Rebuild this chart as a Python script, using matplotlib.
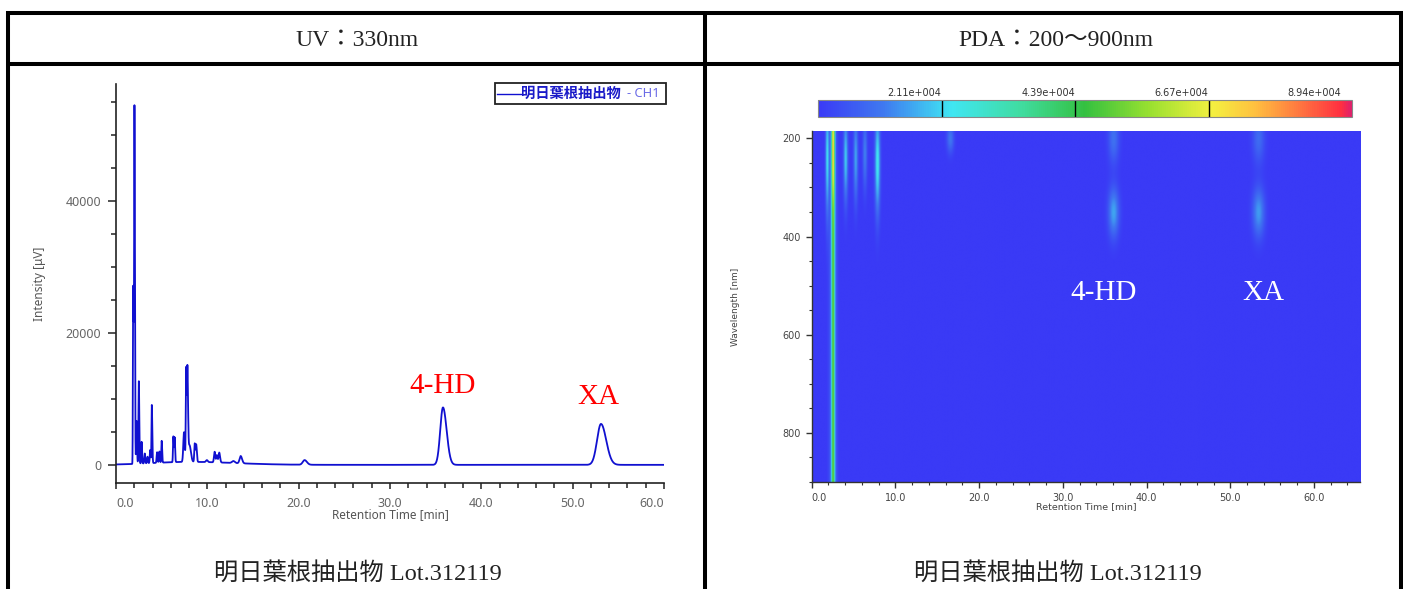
import numpy as np
import matplotlib
matplotlib.use("Agg")
import matplotlib.pyplot as plt
from matplotlib.colors import LinearSegmentedColormap
from matplotlib.lines import Line2D
from matplotlib.patches import Rectangle
from matplotlib.ticker import MultipleLocator, NullLocator

W, H, DPI = 1403, 589, 100

# ---- UV 330 nm chromatogram: peak table ----
# retention time [min], height [uV], front / tail widths [min]
uv_peak_times = [1.88, 2.02, 2.25, 2.50, 2.80, 3.15, 3.45, 3.75, 3.92, 4.50,
                 4.75, 5.00, 6.28, 6.42, 7.45, 7.68, 7.82, 8.05, 8.62, 8.78,
                 9.95, 10.80, 11.05, 11.30, 12.85, 13.65, 20.65, 35.80, 53.10]
uv_peak_heights = [27000, 48500, 6500, 12500, 3300, 1500, 1000, 2000, 8800, 1600,
                   1700, 3300, 3900, 3700, 4500, 14300, 13500, 2500, 2800, 2600,
                   300, 1600, 1100, 1500, 300, 1100, 700, 8700, 6200]
uv_peak_front = [0.03, 0.03, 0.04, 0.04, 0.04, 0.05, 0.05, 0.05, 0.035, 0.05,
                 0.05, 0.04, 0.04, 0.04, 0.08, 0.04, 0.04, 0.10, 0.05, 0.05,
                 0.10, 0.07, 0.07, 0.07, 0.15, 0.12, 0.20, 0.30, 0.43]
uv_peak_tail = [0.08, 0.05, 0.05, 0.05, 0.05, 0.05, 0.05, 0.05, 0.05, 0.05,
                0.05, 0.05, 0.05, 0.05, 0.08, 0.06, 0.07, 0.15, 0.06, 0.07,
                0.10, 0.07, 0.07, 0.09, 0.15, 0.15, 0.25, 0.40, 0.57]
# slow baseline rise in the early part of the run
uv_baseline_center, uv_baseline_height = 8.0, 450
uv_baseline_front, uv_baseline_tail = 4.0, 5.0

uv_xticks = [0, 10, 20, 30, 40, 50, 60]
uv_yticks = [0, 20000, 40000]
peak_names = ["4-HD", "XA"]

# ---- PDA contour: absorption bands ----
pda_band_times = [1.8, 2.5, 2.5, 2.5, 4.0, 5.2, 6.3, 7.8, 16.5, 36.0, 36.0, 53.3, 53.3]
pda_band_widths = [0.15, 0.13, 0.3, 0.14, 0.18, 0.18, 0.18, 0.22, 0.3, 0.45, 0.45, 0.5, 0.5]
pda_band_levels = [2.2e4, 4.0e4, 1.2e4, 2.2e4, 2.0e4, 1.6e4, 1.2e4, 2.4e4, 1.1e4,
                   1.6e4, 1.0e4, 1.5e4, 0.9e4]
pda_band_wl_center = [240, 550, 550, 230, 240, 240, 230, 250, 200, 350, 200, 350, 200]
pda_band_wl_spread = [80, 1e5, 1e5, 70, 60, 60, 50, 70, 20, 35, 35, 35, 35]
pda_colorbar_ticks = [2.11e4, 4.39e4, 6.67e4, 8.94e4]
pda_colorbar_labels = ["2.11e+004", "4.39e+004", "6.67e+004", "8.94e+004"]
pda_vmax = 9.12e4
pda_time_max = 65.5
pda_wl_range = (185, 900)

sample_name = "明日葉根抽出物"
caption = "明日葉根抽出物 Lot.312119"

SERIF_JP = ["Liberation Serif", "Noto Sans CJK JP"]
SANS = ["Noto Sans", "DejaVu Sans"]


def px_x(x):
    return x / W


def px_y(y):
    return 1 - y / H


def skewed_peak(t, t0, h, sf, st):
    s = np.where(t < t0, sf, st)
    return h * np.exp(-(t - t0) ** 2 / (2 * s ** 2))


fig = plt.figure(figsize=(W / DPI, H / DPI), dpi=DPI)
fig.patch.set_facecolor("white")

# ---- table frame ----
lw_frame = 2.9
for (x0, y0, x1, y1) in [(6, 13, 1403, 13), (6, 64, 1403, 64),
                         (8, 11, 8, 589), (705, 11, 705, 589), (1401, 11, 1401, 589)]:
    fig.add_artist(Line2D([px_x(x0), px_x(x1)], [px_y(y0), px_y(y1)],
                          transform=fig.transFigure, color="black", lw=lw_frame,
                          solid_capstyle="butt"))

fig.text(px_x(357), px_y(40), "UV：330nm", family=SERIF_JP, fontsize=17,
         ha="center", va="center", color="#222222")
fig.text(px_x(1056), px_y(40), "PDA：200〜900nm", family=SERIF_JP, fontsize=17,
         ha="center", va="center", color="#222222")
fig.text(px_x(358), px_y(573), caption, family=SERIF_JP, fontsize=17.5,
         ha="center", va="center", color="#222222")
fig.text(px_x(1058), px_y(573), caption, family=SERIF_JP, fontsize=17.5,
         ha="center", va="center", color="#222222")

# ---- UV chromatogram ----
t = np.arange(0, 60.0001, 0.005)
signal = skewed_peak(t, uv_baseline_center, uv_baseline_height,
                     uv_baseline_front, uv_baseline_tail)
for t0, h, sf, st in zip(uv_peak_times, uv_peak_heights, uv_peak_front, uv_peak_tail):
    signal = signal + skewed_peak(t, t0, h, sf, st)

ax1 = fig.add_axes([px_x(116), px_y(483), (664 - 116) / W, (483 - 84) / H])
ax1.plot(t, signal, color="#1010d0", lw=1.3)
ax1.set_xlim(0, 60)
ax1.set_ylim(-2750, 57700)
for s in ["top", "right"]:
    ax1.spines[s].set_visible(False)
for s in ["left", "bottom"]:
    ax1.spines[s].set_color("#222222")
    ax1.spines[s].set_linewidth(1.2)
ax1.set_xticks(uv_xticks)
ax1.xaxis.set_minor_locator(MultipleLocator(2))
ax1.set_yticks(uv_yticks)
ax1.yaxis.set_minor_locator(MultipleLocator(5000))
ax1.set_xticklabels([f"{v:.1f}" for v in uv_xticks])
ax1.set_yticklabels([str(v) for v in uv_yticks])
ax1.tick_params(axis="both", which="major", length=5.5, width=1.1, color="#222222",
                labelsize=9, labelcolor="#666666", pad=5)
ax1.tick_params(axis="both", which="minor", length=3.5, width=1.1, color="#222222")
ax1.tick_params(axis="x", which="major", length=4, pad=6)
for lab in ax1.get_xticklabels() + ax1.get_yticklabels():
    lab.set_family(SANS)
xlabs = ax1.get_xticklabels()
xlabs[0].set_ha("left")
xlabs[-1].set_ha("right")
ax1.set_xlabel("Retention Time [min]", family=SANS, fontsize=8.5, color="#555555",
               labelpad=-1)
ax1.set_ylabel("Intensity [μV]", family=SANS, fontsize=8.5, color="#555555",
               labelpad=14)

ax1.text(uv_peak_times[-2], 11900, peak_names[0], family=SERIF_JP, fontsize=21,
         color="#ff0000", ha="center", va="center")
ax1.text(52.8, 10350, peak_names[1], family=SERIF_JP, fontsize=21,
         color="#ff0000", ha="center", va="center")

# legend box
fig.add_artist(Rectangle((px_x(494.5), px_y(104.3)), (665.7 - 494.5) / W, (104.3 - 82.5) / H,
                         transform=fig.transFigure, facecolor="white",
                         edgecolor="#222222", lw=1.3))
fig.add_artist(Line2D([px_x(497), px_x(521)], [px_y(93.5), px_y(93.5)],
                      transform=fig.transFigure, color="#1010d0", lw=1.0))
fig.text(px_x(521), px_y(93.5), sample_name, family=["Noto Sans CJK JP"], fontsize=10.3,
         fontweight="bold", color="#1a1ac8", ha="left", va="center")
fig.text(px_x(627), px_y(93.5), "- CH1", family=SANS, fontsize=9.3,
         color="#6a6ae6", ha="left", va="center")

# ---- PDA contour map ----
pda_cmap = LinearSegmentedColormap.from_list("pda", [
    (0.00, "#3a3af6"), (0.12, "#3f78f0"), (0.25, "#40e6f2"), (0.38, "#40dca0"),
    (0.50, "#34c040"), (0.62, "#98e030"), (0.74, "#f4f040"), (0.82, "#ffc040"),
    (0.91, "#ff7040"), (0.98, "#ff3040"), (1.00, "#e0206a")])

tt = np.linspace(0, pda_time_max, 1310)
wl = np.linspace(pda_wl_range[0], pda_wl_range[1], 716)
TT, WL = np.meshgrid(tt, wl)
Z = np.zeros_like(TT)
for tc, st, lev, lc, sl in zip(pda_band_times, pda_band_widths, pda_band_levels,
                               pda_band_wl_center, pda_band_wl_spread):
    Z += lev * np.exp(-(TT - tc) ** 2 / (2 * st ** 2)) * np.exp(-(WL - lc) ** 2 / (2 * sl ** 2))

ax2 = fig.add_axes([px_x(811.7), px_y(482), (1360 - 811.7) / W, (482 - 131) / H])
im = ax2.imshow(Z, extent=[0, pda_time_max, pda_wl_range[1], pda_wl_range[0]],
                aspect="auto", cmap=pda_cmap, vmin=0, vmax=pda_vmax,
                interpolation="bilinear")
ax2.set_xlim(0, pda_time_max)
ax2.set_ylim(pda_wl_range[1], pda_wl_range[0])
for s in ["top", "right"]:
    ax2.spines[s].set_visible(False)
for s in ["left", "bottom"]:
    ax2.spines[s].set_color("#333333")
    ax2.spines[s].set_linewidth(1.0)
ax2.set_xticks([0, 10, 20, 30, 40, 50, 60])
ax2.set_xticklabels([f"{v:.1f}" for v in [0, 10, 20, 30, 40, 50, 60]])
ax2.xaxis.set_minor_locator(MultipleLocator(2))
ax2.set_yticks([200, 400, 600, 800])
ax2.yaxis.set_minor_locator(MultipleLocator(50))
ax2.tick_params(axis="both", which="major", length=4, width=1.0, color="#333333",
                labelsize=7, labelcolor="#444444", pad=4)
ax2.tick_params(axis="both", which="minor", length=2.5, width=0.8, color="#333333")
ax2.get_xticklabels()[0].set_ha("left")
ax2.set_xlabel("Retention Time [min]", fontsize=6.8, color="#444444", labelpad=-1)
ax2.set_ylabel("Wavelength [nm]", fontsize=6.5, color="#444444", labelpad=30)
ax2.text(34.9, 515, peak_names[0], family=SERIF_JP, fontsize=21, color="white",
         ha="center", va="center")
ax2.text(53.9, 515, peak_names[1], family=SERIF_JP, fontsize=21, color="white",
         ha="center", va="center")

cax = fig.add_axes([px_x(818), px_y(117), (1352 - 818) / W, (117 - 100) / H])
cb = fig.colorbar(im, cax=cax, orientation="horizontal")
cb.outline.set_edgecolor("#888888")
cb.outline.set_linewidth(0.8)
cax.xaxis.set_ticks_position("top")
cax.set_xticks(pda_colorbar_ticks)
cax.set_xticklabels(pda_colorbar_labels)
cax.tick_params(axis="x", length=0, labelsize=7, labelcolor="#333333", pad=1.5)
for lab in cax.get_xticklabels():
    lab.set_ha("right")
for v in pda_colorbar_ticks[:-1]:
    cax.axvline(v, color="black", lw=1.0)
cax.xaxis.set_minor_locator(NullLocator())

fig.savefig("out.png", dpi=DPI, facecolor="white")
